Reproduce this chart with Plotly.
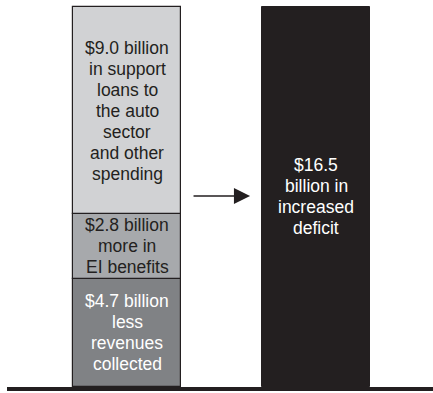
import plotly.graph_objects as go

# Stacked components of the deficit (billions of dollars)
categories = ["Components", "Deficit"]
component_values = [4.7, 2.8, 9.0]
component_labels = [
    "$4.7 billion<br>less<br>revenues<br>collected",
    "$2.8 billion<br>more in<br>EI benefits",
    "$9.0 billion<br>in support<br>loans to<br>the auto<br>sector<br>and other<br>spending",
]
component_colors = ["#808285", "#a7a9ac", "#d1d2d4"]
component_text_colors = ["#ffffff", "#231f20", "#231f20"]

deficit_value = [16.5]
deficit_label = "$16.5<br>billion in<br>increased<br>deficit"

ink = "#231f20"
font_family = "Liberation Sans, Arial, sans-serif"
font_size = 17.5
line_gap = 21  # px between text baselines


def centred_lines(x, y, label, color):
    """One annotation per line, stacked around (x, y) with a tight leading."""
    lines = label.split("<br>")
    n = len(lines)
    out = []
    for i, line in enumerate(lines):
        out.append(dict(
            x=x, y=y, xref="x", yref="y", text=line, showarrow=False,
            yshift=((n - 1) / 2 - i) * line_gap,
            font=dict(family=font_family, size=font_size, color=color),
        ))
    return out


fig = go.Figure()

base = 0.0
annotations = []
for val, lab, col, tcol in zip(component_values, component_labels,
                               component_colors, component_text_colors):
    fig.add_trace(go.Bar(
        x=[categories[0]], y=[val], base=[base], width=0.571,
        marker=dict(color=col, line=dict(color=ink, width=1.2)),
        hoverinfo="skip", showlegend=False,
    ))
    annotations += centred_lines(categories[0], base + val / 2, lab, tcol)
    base += val

fig.add_trace(go.Bar(
    x=[categories[1]], y=deficit_value, width=0.571,
    marker=dict(color=ink, line=dict(color=ink, width=1)),
    hoverinfo="skip", showlegend=False,
))
annotations += centred_lines(categories[1], deficit_value[0] / 2,
                             deficit_label, "#ffffff")

# Arrow linking the components to the total
annotations.append(dict(
    x=0.651, y=8.29, ax=0.344, ay=8.29,
    xref="x", yref="y", axref="x", ayref="y",
    text="", showarrow=True, arrowhead=2, arrowsize=2.3,
    arrowwidth=1.4, arrowcolor=ink,
))

fig.update_layout(
    width=433, height=393,
    margin=dict(l=7, r=0, t=0, b=6),
    paper_bgcolor="white", plot_bgcolor="white",
    barmode="overlay", bargap=0,
    xaxis=dict(type="category", range=[-0.635, 1.619], visible=False,
               showgrid=False, zeroline=False),
    yaxis=dict(range=[0, 16.80], visible=False,
               showgrid=False, zeroline=False),
    annotations=annotations,
    shapes=[dict(type="line", xref="paper", yref="paper",
                 x0=0, x1=1, y0=-0.0052, y1=-0.0052,
                 line=dict(color=ink, width=4))],
)

fig.write_html("out.html")
